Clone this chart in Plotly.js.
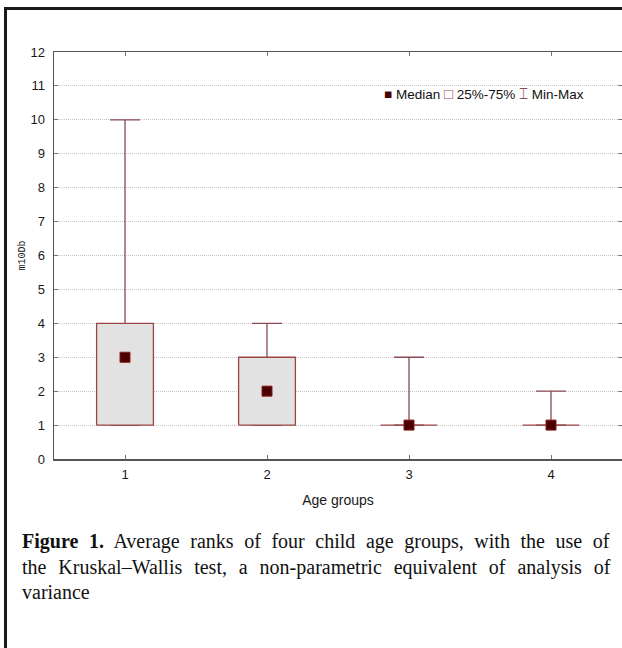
<!DOCTYPE html>
<html><head><meta charset="utf-8">
<script src="https://cdn.plot.ly/plotly-3.0.1.min.js"></script>
<style>
html,body{margin:0;padding:0;background:#fff;width:622px;height:648px;overflow:hidden;}
#frame{position:absolute;left:4px;top:7px;width:700px;height:700px;border-left:3px solid #1a1a1a;border-top:3px solid #1a1a1a;}
#chart{position:absolute;left:0;top:0;width:622px;height:648px;}
</style></head><body>
<div id="frame"></div>
<div id="chart"></div>
<script>
// ---- data ----
const groups = [1, 2, 3, 4];
const tickLabels = ['1', '2', '3', '4'];
const medians = [3, 2, 1, 1];
const q1 = [1, 1, 1, 1];
const q3 = [4, 3, 1, 1];
const mins = [1, 1, 1, 1];
const maxs = [10, 4, 3, 2];
const yTickVals = [0,1,2,3,4,5,6,7,8,9,10,11,12];
const yTitle = 'm10Db';
const xTitle = 'Age groups';
const captionLines = [
  '<b>Figure 1.</b> Average ranks of four child age groups, with the use of',
  'the Kruskal–Wallis test, a non-parametric equivalent of analysis of',
  'variance'
];
const captionWordSpacing = [5.6, 6.9, 0];

// ---- style ----
const boxHalf = 0.2;
const whiskerColor = '#8a4a55';
const boxLine = '#9a4545';
const boxFill = '#e2e2e2';

// box outlines built from quartiles
const bx = [], by = [];
groups.forEach((g, i) => {
  bx.push(g - boxHalf, g + boxHalf, g + boxHalf, g - boxHalf, g - boxHalf, null);
  by.push(q1[i], q1[i], q3[i], q3[i], q1[i], null);
});

const traces = [
  {
    type: 'scatter', mode: 'markers', x: groups, y: medians,
    marker: {color: 'rgba(0,0,0,0)', size: 1},
    error_y: {type: 'data', symmetric: false,
      array: maxs.map((m, i) => m - medians[i]),
      arrayminus: mins.map((m, i) => medians[i] - m),
      width: 15, thickness: 1.3, color: whiskerColor},
    showlegend: false, hoverinfo: 'skip'
  },
  {
    type: 'scatter', mode: 'lines', x: bx, y: by, fill: 'toself',
    fillcolor: boxFill, line: {color: boxLine, width: 1.3},
    showlegend: false, hoverinfo: 'skip'
  },
  {
    type: 'scatter', mode: 'markers', x: groups, y: medians,
    marker: {symbol: 'square', size: 10, color: '#4a0000', line: {color: '#8b1a1a', width: 1}},
    showlegend: false
  }
];

const layout = {
  width: 622, height: 648,
  margin: {l: 54, r: 0, t: 52, b: 189},
  paper_bgcolor: 'rgba(0,0,0,0)', plot_bgcolor: '#fff',
  font: {family: 'Liberation Sans, Arial, sans-serif', size: 13, color: '#1a1a1a'},
  showlegend: false,
  xaxis: {
    range: [0.5, 4.5], tickvals: groups, ticktext: tickLabels,
    showgrid: false, zeroline: false, showline: true, linecolor: '#555', linewidth: 1.5,
    mirror: 'allticks', ticks: 'inside', ticklen: 4, tickcolor: '#777', ticklabelstandoff: 3,
    tickfont: {size: 13},
    title: {text: xTitle, font: {size: 14}, standoff: 14}
  },
  yaxis: {
    range: [0, 12], tickvals: yTickVals,
    showgrid: true, griddash: '1px,1px', gridcolor: '#c4c4c4', gridwidth: 1,
    zeroline: false, showline: true, linecolor: '#555', linewidth: 1.5,
    mirror: 'allticks', ticks: 'inside', ticklen: 4, tickcolor: '#777', ticklabelstandoff: 5,
    tickfont: {size: 13},
    title: {text: yTitle, font: {family: 'Liberation Mono, Courier New, monospace', size: 10}, standoff: 3}
  },
  annotations: [
    {xref: 'paper', yref: 'paper', x: 0.577, y: 0.897, xanchor: 'left', yanchor: 'middle', showarrow: false,
     text: '<span style="color:#4a0000">■</span> Median <span style="color:#a05060;font-size:15px">□</span> 25%-75% <span style="color:#8a4a55;font-size:15px">⌶</span> Min-Max',
     font: {size: 13.5, color: '#111'}},
  ].concat(captionLines.map((t, i) => ({
    xref: 'paper', yref: 'paper', x: -0.06, y: [-0.2015, -0.2654, -0.3268][i],
    xanchor: 'left', yanchor: 'middle', showarrow: false, align: 'left',
    text: '<span style="word-spacing:' + captionWordSpacing[i] + 'px">' + t + '</span>',
    font: {family: 'Liberation Serif, Times New Roman, serif', size: 20, color: '#111'}
  })))
};

Plotly.newPlot('chart', traces, layout, {displayModeBar: false, staticPlot: true});
</script>
</body></html>
